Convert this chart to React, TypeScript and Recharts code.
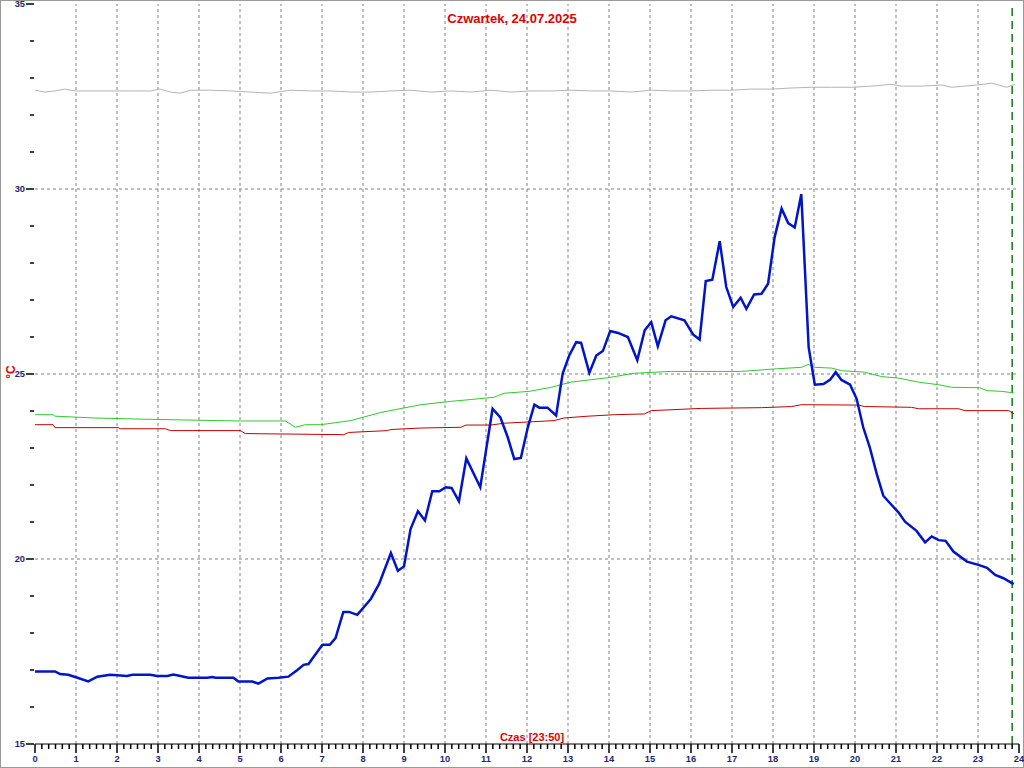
import React from "react";
import { LineChart, Line, XAxis, YAxis, ReferenceLine } from "recharts";

// czas w godzinach, temperatura w °C (odczyt z wykresu)
const blueTime = [0, 0.49, 0.61, 0.81, 0.98, 1.3, 1.52, 1.83, 2.25, 2.37, 2.81, 2.98, 3.23, 3.37, 3.49, 3.74, 4.2, 4.33, 4.4, 4.84, 4.96, 5.3, 5.45, 5.67, 5.94, 6.18, 6.4, 6.55, 6.67, 7.01, 7.19, 7.33, 7.52, 7.66, 7.86, 8.19, 8.39, 8.68, 8.85, 9.0, 9.16, 9.34, 9.51, 9.69, 9.86, 10.02, 10.16, 10.34, 10.52, 10.86, 11.16, 11.35, 11.53, 11.69, 11.85, 12.02, 12.18, 12.3, 12.5, 12.71, 12.87, 13.03, 13.2, 13.32, 13.52, 13.69, 13.85, 14.03, 14.22, 14.46, 14.69, 14.87, 15.03, 15.19, 15.38, 15.52, 15.84, 16.05, 16.21, 16.36, 16.52, 16.7, 16.86, 17.03, 17.21, 17.35, 17.54, 17.72, 17.88, 18.04, 18.21, 18.37, 18.53, 18.69, 18.87, 19.02, 19.23, 19.39, 19.53, 19.67, 19.88, 20.04, 20.2, 20.36, 20.53, 20.69, 20.81, 21.06, 21.22, 21.5, 21.71, 21.87, 22.04, 22.21, 22.4, 22.73, 23.01, 23.22, 23.42, 23.62, 23.87];
const blueTemp = [16.96, 16.96, 16.89, 16.87, 16.81, 16.69, 16.82, 16.87, 16.84, 16.87, 16.87, 16.84, 16.84, 16.88, 16.85, 16.79, 16.79, 16.81, 16.79, 16.79, 16.69, 16.69, 16.63, 16.77, 16.79, 16.82, 17.0, 17.14, 17.16, 17.68, 17.68, 17.86, 18.57, 18.57, 18.49, 18.92, 19.32, 20.16, 19.68, 19.8, 20.81, 21.29, 21.04, 21.83, 21.83, 21.94, 21.92, 21.56, 22.72, 21.94, 24.06, 23.83, 23.29, 22.7, 22.73, 23.56, 24.17, 24.09, 24.09, 23.88, 25.01, 25.5, 25.86, 25.84, 25.03, 25.5, 25.62, 26.16, 26.11, 26.0, 25.37, 26.18, 26.4, 25.75, 26.45, 26.56, 26.45, 26.07, 25.93, 27.51, 27.55, 28.59, 27.35, 26.81, 27.06, 26.76, 27.15, 27.17, 27.44, 28.7, 29.47, 29.08, 28.96, 29.86, 25.72, 24.71, 24.73, 24.84, 25.05, 24.84, 24.71, 24.33, 23.56, 23.02, 22.3, 21.71, 21.56, 21.26, 21.01, 20.76, 20.45, 20.61, 20.51, 20.49, 20.2, 19.93, 19.84, 19.76, 19.57, 19.48, 19.32];

const greenTime = [0, 0.44, 0.49, 1.47, 2.57, 3.54, 5.01, 6.11, 6.35, 6.6, 6.97, 7.7, 8.43, 9.41, 10.14, 10.63, 11.19, 11.44, 12.05, 12.59, 13.07, 13.98, 14.61, 15.52, 17.23, 18.08, 18.69, 18.86, 19.02, 19.43, 19.67, 20.23, 20.65, 21.06, 21.55, 22.04, 22.36, 23.04, 23.22, 23.58, 23.87];
const greenTemp = [23.9, 23.9, 23.86, 23.81, 23.78, 23.76, 23.73, 23.73, 23.56, 23.63, 23.63, 23.74, 23.96, 24.17, 24.26, 24.31, 24.37, 24.48, 24.53, 24.64, 24.78, 24.9, 25.02, 25.07, 25.07, 25.14, 25.18, 25.26, 25.18, 25.16, 25.09, 25.05, 24.93, 24.89, 24.78, 24.71, 24.64, 24.63, 24.55, 24.53, 24.49];

const redTime = [0, 0.44, 0.49, 2.03, 2.08, 3.18, 3.3, 5.01, 5.13, 7.53, 7.65, 8.59, 8.68, 9.41, 10.39, 10.51, 11.12, 11.44, 12.66, 12.9, 13.49, 14.13, 14.86, 15.03, 16.25, 17.72, 18.45, 18.69, 20.09, 20.23, 21.38, 21.55, 22.53, 22.68, 23.75, 23.88];
const redTemp = [23.63, 23.63, 23.55, 23.55, 23.52, 23.52, 23.47, 23.47, 23.39, 23.36, 23.42, 23.47, 23.5, 23.54, 23.56, 23.62, 23.62, 23.67, 23.74, 23.81, 23.86, 23.9, 23.92, 24.01, 24.07, 24.09, 24.12, 24.17, 24.16, 24.12, 24.1, 24.06, 24.06, 24.01, 24.01, 23.92];

const grayTime = [0, 0.24, 0.49, 0.73, 0.98, 1.34, 1.83, 2.32, 2.81, 3.05, 3.3, 3.54, 3.79, 4.28, 4.77, 5.25, 5.74, 6.23, 6.72, 7.21, 7.7, 8.19, 8.68, 9.16, 9.65, 10.14, 10.63, 11.12, 11.61, 12.1, 12.59, 13.07, 13.56, 14.05, 14.54, 15.03, 15.52, 16.01, 16.5, 16.98, 17.47, 17.96, 18.45, 18.94, 19.43, 19.92, 20.41, 20.89, 21.14, 21.63, 22.12, 22.36, 22.97, 23.34, 23.7, 23.9];
const grayTemp = [32.67, 32.62, 32.65, 32.7, 32.65, 32.65, 32.65, 32.65, 32.65, 32.7, 32.62, 32.59, 32.67, 32.67, 32.65, 32.62, 32.59, 32.67, 32.65, 32.65, 32.62, 32.62, 32.65, 32.67, 32.62, 32.65, 32.62, 32.67, 32.62, 32.65, 32.65, 32.67, 32.65, 32.65, 32.62, 32.67, 32.65, 32.65, 32.67, 32.67, 32.7, 32.7, 32.73, 32.75, 32.75, 32.75, 32.78, 32.83, 32.78, 32.78, 32.81, 32.75, 32.81, 32.86, 32.75, 32.83];

const hourLabels = Array.from({ length: 25 }, (_, i) => i);
const xTicks = Array.from({ length: 145 }, (_, i) => i / 6);
const yTicks = Array.from({ length: 21 }, (_, i) => 15 + i);
const yGrid = [20, 25, 30];
const xGrid = hourLabels.slice(1, 24);
const lastReading = 23 + 50 / 60;

const toRows = (time: number[], temp: number[]) => time.map((t, i) => ({ t, v: temp[i] }));
const blueData = toRows(blueTime, blueTemp);
const greenData = toRows(greenTime, greenTemp);
const redData = toRows(redTime, redTemp);
const grayData = toRows(grayTime, grayTemp);

const FONT = "'Liberation Sans', Arial, sans-serif";
const LABEL = "#1c2677";
const RED = "#e00000";

function XTick({ x, y, payload }: any) {
  const v = payload.value as number;
  const major = Math.abs(v - Math.round(v)) < 1e-6;
  return (
    <g>
      <line x1={x} x2={x} y1={y} y2={y + (major ? 9 : 5)} stroke="#000" strokeWidth={1.5} />
      {major && (
        <text x={x} y={y + 18} textAnchor="middle" fill={LABEL} fontSize={9.3} fontWeight="bold" fontFamily={FONT}>
          {Math.round(v)}
        </text>
      )}
    </g>
  );
}

function YTick({ x, y, payload }: any) {
  const v = payload.value as number;
  const major = v % 5 === 0;
  return (
    <g>
      <line x1={x - (major ? 9 : 5)} x2={x - 1} y1={y} y2={y} stroke="#000" strokeWidth={1.5} />
      {major && (
        <text x={x - 10} y={y} dy="0.35em" textAnchor="end" fill={LABEL} fontSize={9.3} fontWeight="bold" fontFamily={FONT}>
          {v}
        </text>
      )}
    </g>
  );
}

export default function App() {
  return (
    <div
      style={{
        position: "absolute",
        left: 0,
        top: 0,
        width: 1024,
        height: 768,
        background: "#fff",
        boxShadow: "inset 0 0 0 1px #9a9a9a",
      }}
    >
      <LineChart width={1024} height={768} margin={{ top: 4, right: 5, bottom: 0, left: 0 }}>
        <XAxis
          dataKey="t"
          type="number"
          domain={[0, 24]}
          ticks={xTicks}
          interval={0}
          height={24}
          tickSize={0}
          tickMargin={0}
          tickLine={false}
          axisLine={{ stroke: "#000", strokeWidth: 1 }}
          tick={<XTick />}
        />
        <YAxis
          type="number"
          domain={[15, 35]}
          ticks={yTicks}
          interval={0}
          width={35}
          tickSize={0}
          tickMargin={0}
          tickLine={false}
          axisLine={false}
          tick={<YTick />}
        />
        {xGrid.map((h) => (
          <ReferenceLine key={"x" + h} x={h} stroke="#808080" strokeDasharray="3 3" />
        ))}
        {yGrid.map((v) => (
          <ReferenceLine key={"y" + v} y={v} stroke="#808080" strokeDasharray="3 3" />
        ))}
        <ReferenceLine x={lastReading} stroke="#137a13" strokeWidth={1.5} strokeDasharray="8 5" />
        <Line data={grayData} dataKey="v" stroke="#b4b4b4" strokeWidth={1} dot={false} isAnimationActive={false} />
        <Line data={redData} dataKey="v" stroke="#c40000" strokeWidth={1} dot={false} isAnimationActive={false} />
        <Line data={greenData} dataKey="v" stroke="#2ccc2c" strokeWidth={1} dot={false} isAnimationActive={false} />
        <Line data={blueData} dataKey="v" stroke="#0014c8" strokeWidth={2.5} dot={false} isAnimationActive={false} />
      </LineChart>
      <svg width={1024} height={768} style={{ position: "absolute", left: 0, top: 0, pointerEvents: "none" }}>
        <text x={512} y={22.5} textAnchor="middle" fill={RED} fontSize={13} fontWeight="bold" fontFamily={FONT}>
          Czwartek, 24.07.2025
        </text>
        <text x={532} y={741} textAnchor="middle" fill={RED} fontSize={11} fontWeight="bold" fontFamily={FONT}>
          Czas [23:50]
        </text>
        <text
          x={11}
          y={372}
          dy="0.35em"
          transform="rotate(-90 11 372)"
          textAnchor="middle"
          fill={RED}
          fontSize={12}
          fontWeight="bold"
          fontFamily={FONT}
        >
          °C
        </text>
      </svg>
    </div>
  );
}
